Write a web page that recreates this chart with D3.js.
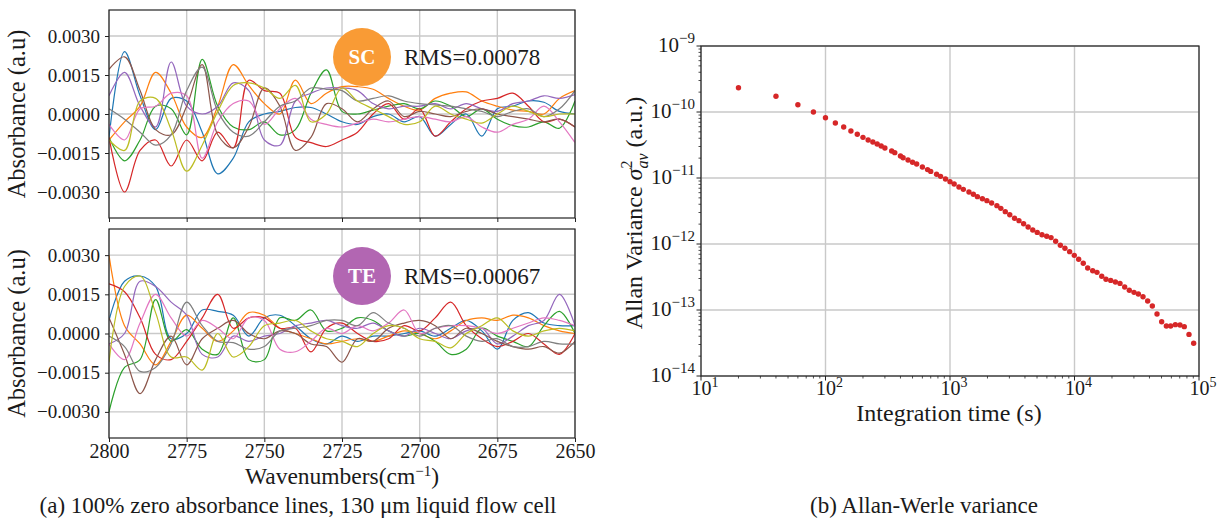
<!DOCTYPE html>
<html><head><meta charset="utf-8">
<script src="https://cdn.jsdelivr.net/npm/d3@7"></script>
<style>
body{margin:0;background:#fff}
svg{display:block}
text{font-family:"Liberation Serif","Times New Roman",serif;fill:#1a1a1a}
</style>
</head><body>
<svg id="chart" width="1217" height="521"></svg>
<script>
// ---------- DATA ----------
const wavenumbers = [2800,2795,2790,2785,2780,2775,2770,2765,2760,2755,2750,2745,2740,2735,2730,2725,2720,2715,2710,2705,2700,2695,2690,2685,2680,2675,2670,2665,2660,2655,2650];
const wnTicks = [2800,2775,2750,2725,2700,2675,2650];
const absTicks = [-0.003,-0.0015,0,0.0015,0.003];
const seriesColors = ["#1f77b4","#ff7f0e","#2ca02c","#d62728","#9467bd","#8c564b","#e377c2","#7f7f7f","#bcbd22"];
// absorbance values in units of 1e-3 a.u.
// SC panel
const scBlue   = [-0.9,2.4,0.7,-0.6,0.6,0.5,-0.7,-2.3,-1.7,-0.3,0.0,0.1,0.25,0.25,0.0,-0.3,-0.4,-0.1,0.0,-0.3,-0.1,-0.85,-0.4,0.0,-0.85,0.2,0.3,0.5,0.45,0.1,0.0];
const scOrange = [-1.0,-0.3,0.3,1.6,0.8,-0.5,-0.9,0.3,1.9,1.1,0.4,0.0,1.3,0.4,0.8,1.05,1.05,0.95,0.6,0.3,0.15,0.6,0.8,0.85,0.5,0.3,0.15,0.1,0.0,0.6,0.9];
const scGreen  = [-0.9,-1.8,-1.0,0.3,0.2,-0.8,2.1,0.3,-0.5,-0.6,-0.3,-0.8,-0.6,0.8,1.7,0.1,0.0,0.15,0.3,0.4,0.2,0.5,0.3,-0.1,0.2,-0.2,-0.45,-0.5,-0.3,-0.55,0.5];
const scRed    = [-0.9,-3.0,-1.4,-1.0,-2.0,-1.0,-1.8,-0.7,-1.3,1.3,0.9,0.8,-0.9,-1.1,-1.25,-1.0,-0.7,0.0,0.4,-0.2,0.2,-0.85,-0.3,0.2,0.5,0.6,0.8,0.3,-0.3,-0.2,-0.5];
const scPurple = [0.7,1.6,0.3,-0.5,2.0,0.3,0.0,0.3,1.2,0.9,-1.0,-1.2,0.5,0.8,1.0,1.0,0.9,0.4,0.2,0.3,0.3,0.4,0.2,0.4,0.2,0.1,0.4,0.5,0.7,0.6,0.75];
const scBrown  = [1.72,2.2,0.9,-0.6,-0.8,0.3,1.9,-0.8,-1.3,-0.5,1.0,0.3,-1.4,-0.9,0.4,0.2,-0.3,0.2,0.5,-0.1,0.1,0.0,-0.1,0.1,0.2,0.0,-0.1,-0.2,-0.3,-0.2,-0.5];
const scPink   = [-0.4,-1.0,0.2,0.3,0.8,0.7,-1.7,-0.3,0.4,0.5,-0.4,0.2,0.6,-0.2,-0.4,-0.5,-0.35,-0.2,-0.3,-0.2,-0.1,-0.2,-0.3,-0.1,-0.5,-0.7,-0.4,-0.2,0.3,-0.3,-1.1];
const scGray   = [0.2,-0.2,-0.7,-1.2,-0.8,0.9,1.8,0.1,-0.7,-0.85,-0.3,0.3,0.5,1.0,0.95,0.9,0.5,0.6,0.7,0.5,0.4,0.35,0.3,0.2,0.1,-0.1,0.1,0.2,-0.1,0.2,0.9];
const scOlive  = [-1.0,-1.4,0.5,0.6,-0.6,-2.2,-1.2,0.1,1.1,1.2,1.0,0.6,1.1,-0.3,0.0,1.0,0.5,0.2,-0.1,-0.4,-0.3,0.3,0.0,-0.2,-0.35,0.0,0.3,0.1,-0.1,0.0,0.0];
// TE panel
const teBlue   = [0.5,2.0,2.2,1.8,-0.2,0.0,0.9,0.85,0.7,-0.1,0.6,0.7,0.3,-0.2,-0.4,-0.1,-0.3,-0.1,-0.1,0.0,0.1,-0.1,0.2,0.5,0.1,-0.6,0.5,0.8,0.4,0.3,0.3];
const teOrange = [3.0,0.3,-0.4,-1.2,-0.3,0.7,0.2,-0.3,0.1,0.8,0.7,0.2,0.0,-0.2,-0.4,-0.3,-0.2,-0.3,-0.1,0.1,0.0,-0.2,0.1,0.5,0.6,0.5,0.7,0.6,0.3,0.1,0.0];
const teGreen  = [-3.0,-1.3,-1.0,1.3,-0.3,0.15,-0.6,-0.8,0.6,-1.0,-1.0,0.6,0.5,0.9,0.1,0.2,0.6,0.5,0.1,-0.1,0.0,-0.3,-0.8,-0.6,0.2,-0.1,-0.3,-0.5,0.3,0.85,0.0];
const teRed    = [1.9,1.6,0.6,-0.8,-1.0,-0.3,0.6,1.5,0.2,0.6,0.6,0.2,0.2,-0.7,0.2,0.4,0.0,-0.3,-0.2,0.3,0.1,0.6,1.2,0.3,-0.2,-0.5,-0.3,0.0,-0.4,-0.8,0.0];
const tePurple = [-0.4,0.0,2.0,1.8,1.2,0.7,-0.8,-0.9,-0.1,-0.3,-0.1,0.0,0.3,0.4,0.5,0.3,0.2,0.4,0.1,-0.1,0.2,0.0,-0.2,0.1,0.2,-0.4,-0.1,0.3,0.5,1.5,0.3];
const teBrown  = [0.6,-0.8,-2.3,-1.0,-0.1,-1.2,-0.2,0.2,0.5,0.0,-0.2,0.1,0.0,-0.4,-0.5,-1.1,-0.2,-0.3,0.2,0.4,0.5,0.3,-0.2,0.2,0.0,-0.3,-0.5,-0.6,-0.5,-0.75,-0.3];
const tePink   = [-0.4,-1.0,0.4,1.5,0.6,-0.1,0.5,0.2,-0.2,0.6,0.5,-0.6,-0.7,-0.3,0.2,0.0,0.3,0.1,0.4,0.9,0.0,0.2,0.3,0.3,0.2,0.0,0.2,0.4,0.6,0.5,0.3];
const teGray   = [-0.1,-0.5,-1.45,-1.3,-0.4,1.2,0.3,-0.3,-0.35,-0.6,-0.5,0.1,0.2,0.3,0.5,0.5,0.3,0.8,0.4,0.2,-0.1,0.2,0.3,-0.1,-0.3,-0.2,-0.5,-0.5,-0.3,-0.4,-0.4];
const teOlive  = [-1.1,1.8,2.2,0.8,-0.9,-0.9,-1.4,0.0,-0.9,-0.5,0.3,0.4,0.5,0.1,-0.2,-0.3,-0.5,0.0,0.3,0.2,-0.2,-0.3,-0.55,0.0,0.3,0.6,0.1,-0.1,0.1,0.2,0.1];

const scSeries = [scBlue,scOrange,scGreen,scRed,scPurple,scBrown,scPink,scGray,scOlive];
const teSeries = [teBlue,teOrange,teGreen,teRed,tePurple,teBrown,tePink,teGray,teOlive];

// Allan-Werle variance
const allanTau = [20,40,60,80,100,120,140,160,180,200,220,240,260,280,300,340,360,400,420,460,500,540,600,660,700,780,840,920,1000,1080,1180,1280,1420,1540,1660,1820,1980,2160,2380,2560,2780,3020,3300,3580,3900,4240,4620,5020,5480,5980,6480,7060,7700,8380,9140,9960,10800,11760,12760,14000,15160,16540,17900,19540,21300,23200,25300,27560,30060,32580,35500,38700,42180,46000,50140,54680,59200,64540,70360,76200,83100,90600];
const allanVar = [2.33e-10,1.73e-10,1.29e-10,1.0e-10,8.2e-11,6.81e-11,5.93e-11,5.15e-11,4.59e-11,4.13e-11,3.77e-11,3.51e-11,3.27e-11,3.05e-11,2.85e-11,2.57e-11,2.42e-11,2.15e-11,2.03e-11,1.87e-11,1.73e-11,1.63e-11,1.47e-11,1.34e-11,1.26e-11,1.14e-11,1.06e-11,9.66e-12,8.8e-12,8.11e-12,7.31e-12,6.73e-12,6.14e-12,5.66e-12,5.22e-12,4.86e-12,4.54e-12,4.18e-12,3.81e-12,3.47e-12,3.09e-12,2.78e-12,2.45e-12,2.26e-12,2.03e-12,1.81e-12,1.63e-12,1.50e-12,1.38e-12,1.31e-12,1.25e-12,1.10e-12,9.55e-13,8.6e-13,7.66e-13,6.73e-13,5.86e-13,5.1e-13,4.33e-13,3.94e-13,3.72e-13,3.24e-13,2.92e-13,2.81e-13,2.65e-13,2.53e-13,2.23e-13,1.99e-13,1.85e-13,1.75e-13,1.59e-13,1.37e-13,1.15e-13,8.7e-14,6.65e-14,5.72e-14,5.72e-14,6.0e-14,5.93e-14,5.59e-14,4.27e-14,3.13e-14];
const tauTicks = [1e1,1e2,1e3,1e4,1e5];
const tauTickExp = ["1","2","3","4","5"];
const varTicks = [1e-14,1e-13,1e-12,1e-11,1e-10,1e-9];
const varTickExp = ["\u221214","\u221213","\u221212","\u221211","\u221210","\u22129"];

// ---------- DRAW ----------
const svg = d3.select("#chart");
const gridColor = "#c9c9c9", frameColor = "#222";
const serif = "Liberation Serif";

function drawSpectra(id, top, bottom, series, badgeText, badgeColor, rmsText, showXLabels) {
  const x = d3.scaleLinear().domain([2800, 2650]).range([109, 575]);
  const y = d3.scaleLinear().domain([-0.004, 0.004]).range([bottom, top]);
  const g = svg.append("g");
  g.append("clipPath").attr("id", id).append("rect")
    .attr("x", 109).attr("y", top).attr("width", 466).attr("height", bottom - top);
  g.selectAll(".vg").data(wnTicks).join("line")
    .attr("x1", d => x(d)).attr("x2", d => x(d)).attr("y1", top).attr("y2", bottom)
    .attr("stroke", gridColor).attr("stroke-width", 1.4);
  g.selectAll(".hg").data(absTicks).join("line")
    .attr("x1", 109).attr("x2", 575).attr("y1", d => y(d)).attr("y2", d => y(d))
    .attr("stroke", gridColor).attr("stroke-width", 1.4);
  const line = d3.line().x((d, i) => x(wavenumbers[i])).y(d => y(d * 1e-3)).curve(d3.curveCatmullRom.alpha(0.5));
  g.append("g").attr("clip-path", `url(#${id})`).selectAll("path").data(series).join("path")
    .attr("d", line).attr("fill", "none").attr("stroke", (d, i) => seriesColors[i]).attr("stroke-width", 1.2);
  g.append("rect").attr("x", 109).attr("y", top).attr("width", 466).attr("height", bottom - top)
    .attr("fill", "none").attr("stroke", frameColor).attr("stroke-width", 1.2);
  const ya = g.append("g").attr("transform", "translate(109,0)")
    .call(d3.axisLeft(y).tickValues(absTicks).tickFormat(d3.format(".4f")).tickSize(4).tickPadding(5));
  ya.select(".domain").remove();
  ya.attr("font-family", serif);
  ya.selectAll("text").attr("font-size", 19).attr("fill", "#1a1a1a");
  ya.selectAll("line").attr("stroke", frameColor);
  const xa = g.append("g").attr("transform", `translate(0,${bottom})`)
    .call(d3.axisBottom(x).tickValues(wnTicks).tickFormat(showXLabels ? d3.format("d") : "").tickSize(4).tickPadding(2));
  xa.select(".domain").remove();
  xa.attr("font-family", serif);
  xa.selectAll("text").attr("font-size", 20).attr("fill", "#1a1a1a");
  xa.selectAll("line").attr("stroke", frameColor);
  g.append("text").attr("transform", `translate(25,${(top + bottom) / 2}) rotate(-90)`)
    .attr("text-anchor", "middle").attr("font-size", 24.5).text("Absorbance (a.u)");
  // badge
  const cy = top + 47;
  g.append("circle").attr("cx", 362).attr("cy", cy).attr("r", 29).attr("fill", badgeColor);
  g.append("text").attr("x", 362).attr("y", cy + 7).attr("text-anchor", "middle")
    .attr("font-size", 21).attr("font-weight", "bold").style("fill", "#fff").text(badgeText);
  g.append("text").attr("x", 404).attr("y", cy + 8).attr("font-size", 23).text(rmsText);
}

drawSpectra("clipSC", 10, 218, scSeries, "SC", "#f99b35", "RMS=0.00078", false);
drawSpectra("clipTE", 229, 438, teSeries, "TE", "#b266b2", "RMS=0.00067", true);

// x label left
const xl = svg.append("text").attr("x", 342).attr("y", 484).attr("text-anchor", "middle").attr("font-size", 23.5);
xl.append("tspan").text("Wavenumbers(cm");
xl.append("tspan").attr("dy", -8).attr("font-size", 15).text("\u22121");
xl.append("tspan").attr("dy", 8).text(")");

svg.append("text").attr("x", 298).attr("y", 513).attr("text-anchor", "middle").attr("font-size", 23)
  .text("(a)  100% zero absorbance lines, 130 \u03bcm liquid flow cell");

// ---------- Allan panel ----------
(function () {
  const L = 701, R = 1199, T = 46, B = 376;
  const x = d3.scaleLog().domain([10, 1e5]).range([L, R]);
  const y = d3.scaleLog().domain([1e-14, 1e-9]).range([B, T]);
  const g = svg.append("g");
  g.selectAll(".vg").data(tauTicks).join("line")
    .attr("x1", d => x(d)).attr("x2", d => x(d)).attr("y1", T).attr("y2", B)
    .attr("stroke", gridColor).attr("stroke-width", 1.4);
  g.selectAll(".hg").data(varTicks).join("line")
    .attr("x1", L).attr("x2", R).attr("y1", d => y(d)).attr("y2", d => y(d))
    .attr("stroke", gridColor).attr("stroke-width", 1.4);
  const minorX = [], minorY = [];
  for (let e = 1; e < 5; e++) for (let m = 2; m < 10; m++) minorX.push(m * Math.pow(10, e));
  for (let e = -14; e < -9; e++) for (let m = 2; m < 10; m++) minorY.push(m * Math.pow(10, e));
  g.selectAll(".mx").data(minorX).join("line")
    .attr("x1", d => x(d)).attr("x2", d => x(d)).attr("y1", B).attr("y2", B + 2.5)
    .attr("stroke", frameColor).attr("stroke-width", 0.8);
  g.selectAll(".my").data(minorY).join("line")
    .attr("y1", d => y(d)).attr("y2", d => y(d)).attr("x1", L).attr("x2", L - 2.5)
    .attr("stroke", frameColor).attr("stroke-width", 0.8);
  g.selectAll(".Mx").data(tauTicks).join("line")
    .attr("x1", d => x(d)).attr("x2", d => x(d)).attr("y1", B).attr("y2", B + 4.5)
    .attr("stroke", frameColor).attr("stroke-width", 1);
  g.selectAll(".My").data(varTicks).join("line")
    .attr("y1", d => y(d)).attr("y2", d => y(d)).attr("x1", L).attr("x2", L - 4.5)
    .attr("stroke", frameColor).attr("stroke-width", 1);
  g.selectAll(".dot").data(allanTau).join("circle")
    .attr("cx", d => x(d)).attr("cy", (d, i) => y(allanVar[i])).attr("r", 2.7).attr("fill", "#d62728");
  g.append("rect").attr("x", L).attr("y", T).attr("width", R - L).attr("height", B - T)
    .attr("fill", "none").attr("stroke", frameColor).attr("stroke-width", 1.2);
  tauTicks.forEach((d, i) => {
    const t = g.append("text").attr("x", x(d) + 4).attr("y", B + 19).attr("text-anchor", "middle").attr("font-size", 20);
    t.append("tspan").text("10");
    t.append("tspan").attr("dy", -8).attr("font-size", 14).text(tauTickExp[i]);
  });
  varTicks.forEach((d, i) => {
    const t = g.append("text").attr("x", L - 6).attr("y", y(d) + 6).attr("text-anchor", "end").attr("font-size", 21);
    t.append("tspan").text("10");
    t.append("tspan").attr("dy", -9).attr("font-size", 15).text(varTickExp[i]);
  });
  g.append("text").attr("x", (L + R) / 2 - 1).attr("y", 421).attr("text-anchor", "middle").attr("font-size", 24)
    .text("Integration time (s)");
  const yl = g.append("text").attr("transform", `translate(642,213) rotate(-90)`).attr("text-anchor", "middle").attr("font-size", 24);
  yl.append("tspan").text("Allan Variance ");
  yl.append("tspan").attr("font-style", "italic").text("\u03c3");
  yl.append("tspan").attr("dy", -10).attr("font-size", 16).text("2");
  yl.append("tspan").attr("dx", -8).attr("dy", 16).attr("font-size", 16).attr("font-style", "italic").text("av");
  yl.append("tspan").attr("dy", -6).text(" (a.u.)");
  g.append("text").attr("x", 924).attr("y", 513).attr("text-anchor", "middle").attr("font-size", 23)
    .text("(b)  Allan-Werle variance");
})();
</script>
</body></html>
